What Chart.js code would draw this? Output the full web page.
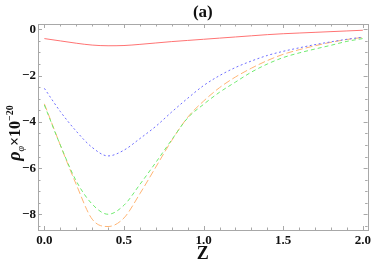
<!DOCTYPE html>
<html>
<head>
<meta charset="utf-8">
<script src="https://cdn.jsdelivr.net/npm/chart.js@4/dist/chart.umd.min.js"></script>
<style>
  html, body { margin: 0; padding: 0; background: #fff; }
  #wrap { width: 374px; height: 265px; }
</style>
</head>
<body>
<div id="wrap"><canvas id="myChart" width="374" height="265"></canvas></div>
<script>
// z values along the x axis
var zValues = [0, 0.1, 0.2, 0.3, 0.4, 0.5, 0.6, 0.7, 0.8, 0.9, 1.0,
               1.1, 1.2, 1.3, 1.4, 1.5, 1.6, 1.7, 1.8, 1.9, 2.0];

// rho_phi x 10^-20
var redValues    = [-0.40, -0.50, -0.60, -0.68, -0.71, -0.70, -0.65, -0.59, -0.53, -0.48, -0.43,
                    -0.38, -0.33, -0.28, -0.23, -0.19, -0.16, -0.13, -0.10, -0.07, -0.04];
var blueValues   = [-2.55, -3.55, -4.40, -5.10, -5.47, -5.22, -4.72, -4.19, -3.57, -2.98, -2.43,
                    -2.00, -1.65, -1.37, -1.13, -0.95, -0.80, -0.66, -0.54, -0.43, -0.34];
var greenValues  = [-3.27, -5.00, -6.55, -7.55, -7.99, -7.60, -6.70, -5.75, -4.77, -3.83, -3.24,
                    -2.72, -2.28, -1.85, -1.50, -1.22, -1.02, -0.85, -0.69, -0.52, -0.40];
var orangeValues = [-3.22, -5.00, -6.70, -8.20, -8.52, -8.15, -7.10, -5.95, -4.80, -3.80, -3.10,
                    -2.52, -2.06, -1.68, -1.35, -1.08, -0.88, -0.71, -0.56, -0.44, -0.35];

var xTicks = [0, 0.5, 1.0, 1.5, 2.0];
var yTicks = [-8, -6, -4, -2, 0];

function pts(vals) {
  return zValues.map(function (z, i) { return {x: z, y: vals[i]}; });
}

var serif = "'Liberation Serif', 'DejaVu Serif', serif";
var frameColor = '#a8a8a8';

// frame, inner ticks, panel title and y label
var framePlugin = {
  id: 'frame',
  afterDraw: function (chart) {
    var ctx = chart.ctx;
    var a = chart.chartArea;
    var xs = chart.scales.x, ys = chart.scales.y;
    ctx.save();
    ctx.strokeStyle = frameColor;
    ctx.lineWidth = 1;
    ctx.strokeRect(Math.round(a.left) + 0.5, Math.round(a.top) + 0.5,
                   Math.round(a.right - a.left), Math.round(a.bottom - a.top));
    ctx.beginPath();
    var i, v, p, len;
    for (i = 0; i <= 20; i++) {
      v = i / 10;
      p = Math.round(xs.getPixelForValue(v)) + 0.5;
      len = (i % 5 === 0) ? 4 : 2.5;
      ctx.moveTo(p, a.bottom); ctx.lineTo(p, a.bottom - len);
      ctx.moveTo(p, a.top); ctx.lineTo(p, a.top + len);
    }
    for (i = 0; i <= 17; i++) {
      v = -i * 0.5;
      p = Math.round(ys.getPixelForValue(v)) + 0.5;
      len = (i % 4 === 0) ? 4 : 2.5;
      ctx.moveTo(a.left, p); ctx.lineTo(a.left + len, p);
      ctx.moveTo(a.right, p); ctx.lineTo(a.right - len, p);
    }
    ctx.stroke();

    // panel label
    ctx.fillStyle = '#111';
    ctx.font = 'bold 17px ' + serif;
    ctx.textAlign = 'center';
    ctx.textBaseline = 'middle';
    ctx.fillText('(a)', (a.left + a.right) / 2, 13);

    // y axis title: rho_phi x 10^-20
    ctx.translate(15, 133);
    ctx.rotate(-Math.PI / 2);
    var parts = [
      {t: '\u03C1', f: 'italic bold 18px ' + serif, dy: 0},
      {t: '\u03C6', f: 'italic 10px ' + serif, dy: 4},
      {t: '\u00D710', f: 'bold 16px ' + serif, dy: 0},
      {t: '\u221220', f: 'bold 10px ' + serif, dy: -7}
    ];
    var total = 0;
    parts.forEach(function (q) { ctx.font = q.f; q.w = ctx.measureText(q.t).width; total += q.w; });
    var x = -total / 2;
    ctx.textAlign = 'left';
    ctx.textBaseline = 'alphabetic';
    parts.forEach(function (q) {
      ctx.font = q.f;
      ctx.fillText(q.t, x, 5 + q.dy);
      x += q.w;
    });
    ctx.restore();
  }
};

var ctx = document.getElementById('myChart');
var myChart = new Chart(ctx, {
  type: 'line',
  data: {
    datasets: [{
      data: pts(redValues),
      borderColor: 'rgb(255,115,115)',
      borderWidth: 1,
      pointRadius: 0,
      cubicInterpolationMode: 'monotone'
    }, {
      data: pts(blueValues),
      borderColor: 'rgb(110,110,255)',
      borderWidth: 1,
      borderDash: [2, 2.5],
      pointRadius: 0,
      cubicInterpolationMode: 'monotone'
    }, {
      data: pts(greenValues),
      borderColor: 'rgb(110,235,110)',
      borderWidth: 1,
      borderDash: [4, 3],
      pointRadius: 0,
      cubicInterpolationMode: 'monotone'
    }, {
      data: pts(orangeValues),
      borderColor: 'rgb(255,180,115)',
      borderWidth: 1,
      borderDash: [7, 3],
      pointRadius: 0,
      cubicInterpolationMode: 'monotone'
    }]
  },
  options: {
    responsive: false,
    animation: false,
    layout: { padding: { left: 0, right: 3, top: 24, bottom: 0 } },
    plugins: { legend: { display: false }, tooltip: { enabled: false } },
    scales: {
      x: {
        type: 'linear',
        min: -0.04,
        max: 2.03,
        afterBuildTicks: function (s) { s.ticks = xTicks.map(function (v) { return {value: v}; }); },
        afterFit: function (s) { s.height = 35; },
        grid: { display: false, drawTicks: false },
        border: { display: false },
        ticks: {
          padding: 3,
          color: '#111',
          font: { family: serif, size: 13, weight: 'bold' },
          maxRotation: 0,
          callback: function (v) { return v.toFixed(1); }
        },
        title: {
          display: true,
          text: 'Z',
          color: '#111',
          font: { family: serif, size: 18, weight: 'bold' },
          padding: { top: 0, bottom: 0 }
        }
      },
      y: {
        min: -8.67,
        max: 0.23,
        afterBuildTicks: function (s) { s.ticks = yTicks.map(function (v) { return {value: v}; }); },
        afterFit: function (s) { s.width = 38; },
        grid: { display: false, drawTicks: false },
        border: { display: false },
        ticks: {
          padding: 2,
          color: '#111',
          font: { family: serif, size: 13, weight: 'bold' },
          callback: function (v) { return v < 0 ? '\u2212' + Math.abs(v) : String(v); }
        }
      }
    }
  },
  plugins: [framePlugin]
});
</script>
</body>
</html>
